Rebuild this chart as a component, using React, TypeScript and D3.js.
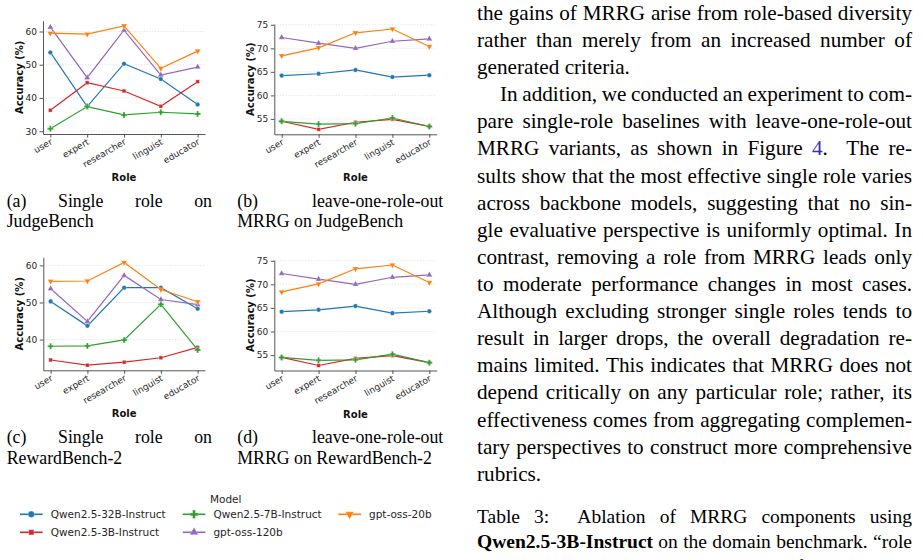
import React, { useEffect, useRef } from "react";
import * as d3 from "d3";

const W = 923;
const H = 560;

const roles = ["user", "expert", "researcher", "linguist", "educator"];

const models = [
  "Qwen2.5-32B-Instruct",
  "Qwen2.5-3B-Instruct",
  "Qwen2.5-7B-Instruct",
  "gpt-oss-120b",
  "gpt-oss-20b",
];
const modelColors = ["#1f77b4", "#d62728", "#2ca02c", "#9467bd", "#ff7f0e"];

// accuracy (%) per model (order of `models`), one value per role
const singleJudge = [
  [53.7, 37.4, 50.3, 45.7, 38.0],
  [36.3, 44.6, 42.1, 37.5, 44.9],
  [30.7, 37.4, 34.9, 35.7, 35.2],
  [61.3, 46.1, 60.4, 46.9, 49.3],
  [59.5, 59.2, 61.7, 48.9, 54.1],
];
const leaveOutJudge = [
  [64.2, 64.6, 65.4, 63.9, 64.3],
  [54.5, 52.8, 54.3, 54.9, 53.4],
  [54.5, 53.9, 54.0, 55.2, 53.4],
  [72.3, 71.1, 70.0, 71.5, 72.0],
  [68.4, 70.1, 73.3, 74.1, 70.4],
];
const singleReward = [
  [50.3, 43.7, 54.0, 54.0, 48.3],
  [34.5, 33.1, 33.9, 35.1, 37.9],
  [38.2, 38.3, 39.9, 49.5, 37.2],
  [53.7, 44.9, 57.3, 50.8, 49.4],
  [55.7, 55.8, 60.8, 53.5, 50.2],
];
const leaveOutReward = [
  [64.2, 64.6, 65.4, 63.9, 64.3],
  [54.5, 52.8, 54.3, 54.9, 53.4],
  [54.5, 53.9, 54.0, 55.2, 53.4],
  [72.3, 71.1, 70.0, 71.5, 72.0],
  [68.4, 70.1, 73.3, 74.1, 70.4],
];

const ticksSingleJudge = [30, 40, 50, 60];
const ticksLeaveOut = [55, 60, 65, 70, 75];
const ticksSingleReward = [40, 50, 60];

const captionA = ["(a) Single role on", "JudgeBench"];
const captionB = ["(b) leave-one-role-out", "MRRG on JudgeBench"];
const captionC = ["(c) Single role on", "RewardBench-2"];
const captionD = ["(d) leave-one-role-out", "MRRG on RewardBench-2"];

// "*" toggles bold, "^" toggles the link colour
const bodyLines = [
  "the gains of MRRG arise from role-based diversity",
  "rather than merely from an increased number of",
  "generated criteria.",
  "In addition, we conducted an experiment to com-",
  "pare single-role baselines with leave-one-role-out",
  "MRRG variants, as shown in Figure ^4^.  The re-",
  "sults show that the most effective single role varies",
  "across backbone models, suggesting that no sin-",
  "gle evaluative perspective is uniformly optimal. In",
  "contrast, removing a role from MRRG leads only",
  "to moderate performance changes in most cases.",
  "Although excluding stronger single roles tends to",
  "result in larger drops, the overall degradation re-",
  "mains limited. This indicates that MRRG does not",
  "depend critically on any particular role; rather, its",
  "effectiveness comes from aggregating complemen-",
  "tary perspectives to construct more comprehensive",
  "rubrics.",
];
const tableCaption = [
  "Table 3:  Ablation of MRRG components using",
  "*Qwen2.5-3B-Instruct* on the domain benchmark. “role",
  "s” denotes using only role-based rubrics for all samples",
];

const panels = [
  { data: singleJudge, ticks: ticksSingleJudge, x0: 43, x1: 205, top: 20.7, bottom: 134, caption: captionA, cx0: 6.7, cx1: 212, cy: 206.5 },
  { data: leaveOutJudge, ticks: ticksLeaveOut, x0: 274.3, x1: 436.7, top: 24, bottom: 134.3, caption: captionB, cx0: 237.3, cx1: 443.3, cy: 206.5 },
  { data: singleReward, ticks: ticksSingleReward, x0: 43.3, x1: 205, top: 257.3, bottom: 370.3, caption: captionC, cx0: 6.7, cx1: 212, cy: 443.2 },
  { data: leaveOutReward, ticks: ticksLeaveOut, x0: 274.3, x1: 436.7, top: 260, bottom: 370.5, caption: captionD, cx0: 237.3, cx1: 443.3, cy: 443.2 },
];

const SANS = "'DejaVu Sans', sans-serif";
const SERIF = "Liberation Serif";
const INK = "#262626";
const LINK = "#3434b0";

const symbolTypes = [d3.symbolCircle, d3.symbolSquare, d3.symbolCross, d3.symbolTriangle, d3.symbolTriangle];
const symbolScale = [1, 0.85, 1.25, 1, 1];

function marker(g: any, i: number, x: number, y: number, size: number) {
  g.append("path")
    .attr("d", d3.symbol().type(symbolTypes[i]).size(size * symbolScale[i])())
    .attr("transform", `translate(${x},${y})` + (i === 4 ? " rotate(180)" : ""))
    .attr("fill", modelColors[i])
    .attr("stroke", "#fff")
    .attr("stroke-width", 0.3);
}

const measureCtx = document.createElement("canvas").getContext("2d")!;
function textWidth(s: string, font: string) {
  measureCtx.font = font;
  return measureCtx.measureText(s).width;
}

// lays out one line of serif text word by word, optionally justified to [x0, x1]
function drawTextLine(g: any, line: string, x0: number, x1: number, y: number, size: number, justify: boolean) {
  const regular = `${size}px "${SERIF}"`;
  const boldFont = `bold ${size}px "${SERIF}"`;
  let isBold = false;
  let isLink = false;
  let pending = 0;
  const words: { segs: { text: string; bold: boolean; link: boolean }[]; width: number; gaps: number }[] = [];
  for (const raw of line.split(" ")) {
    if (raw === "") {
      pending++;
      continue;
    }
    const segs: { text: string; bold: boolean; link: boolean }[] = [];
    let buf = "";
    for (const ch of raw) {
      if (ch === "*" || ch === "^") {
        if (buf) segs.push({ text: buf, bold: isBold, link: isLink });
        buf = "";
        if (ch === "*") isBold = !isBold;
        else isLink = !isLink;
      } else buf += ch;
    }
    if (buf) segs.push({ text: buf, bold: isBold, link: isLink });
    const width = d3.sum(segs, (s) => textWidth(s.text, s.bold ? boldFont : regular));
    words.push({ segs, width, gaps: words.length ? pending + 1 : 0 });
    pending = 0;
  }
  const space = textWidth(" ", regular);
  const totalGaps = d3.sum(words, (w) => w.gaps);
  const natural = d3.sum(words, (w) => w.width) + totalGaps * space;
  const gap = justify && totalGaps ? space + (x1 - x0 - natural) / totalGaps : space;

  let x = x0;
  words.forEach((w) => {
    x += w.gaps * gap;
    const t = g
      .append("text")
      .attr("x", x)
      .attr("y", y)
      .style("font-family", SERIF)
      .style("font-size", `${size}px`)
      .attr("fill", "#000");
    w.segs.forEach((s) => {
      t.append("tspan")
        .text(s.text)
        .attr("font-weight", s.bold ? "bold" : null)
        .attr("fill", s.link ? LINK : null);
    });
    x += w.width;
  });
}

export default function App() {
  const svgRef = useRef<SVGSVGElement>(null);

  useEffect(() => {
    document.body.style.margin = "0";
    const svg = d3.select(svgRef.current);
    svg.selectAll("*").remove();

    panels.forEach((p) => {
      const g = svg.append("g");
      const flat = p.data.flat();
      const lo = d3.min(flat)!;
      const hi = d3.max(flat)!;
      const pad = (hi - lo) * 0.05;

      const x = d3.scalePoint<string>().domain(roles).range([p.x0, p.x1]).padding(0.2);
      const y = d3.scaleLinear().domain([lo - pad, hi + pad]).range([p.bottom, p.top]);

      // dotted horizontal grid
      g.selectAll(".grid")
        .data(p.ticks)
        .join("line")
        .attr("x1", p.x0)
        .attr("x2", p.x1)
        .attr("y1", (d) => y(d))
        .attr("y2", (d) => y(d))
        .attr("stroke", "#dedede")
        .attr("stroke-width", 0.8)
        .attr("stroke-dasharray", "1.2 1.6");

      const yAxis = g
        .append("g")
        .attr("transform", `translate(${p.x0},0)`)
        .call(d3.axisLeft(y).tickValues(p.ticks).tickSize(3.5).tickSizeOuter(0).tickPadding(2.5));
      yAxis.selectAll("path, line").attr("stroke", "#444").attr("stroke-width", 0.9);
      yAxis.selectAll("text").attr("fill", INK).style("font-family", SANS).style("font-size", "9px");

      const xAxis = g
        .append("g")
        .attr("transform", `translate(0,${p.bottom})`)
        .call(d3.axisBottom(x).tickSize(3.5).tickSizeOuter(0));
      xAxis.selectAll("path, line").attr("stroke", "#444").attr("stroke-width", 0.9);
      xAxis
        .selectAll("text")
        .attr("fill", INK)
        .style("font-family", SANS)
        .style("font-size", "9px")
        .attr("text-anchor", "end")
        .attr("y", 0)
        .attr("dy", "0.72em")
        .attr("transform", "translate(-1,4) rotate(-30)");

      g.append("text")
        .attr("x", (p.x0 + p.x1) / 2)
        .attr("y", p.bottom + 47)
        .attr("text-anchor", "middle")
        .attr("fill", "#111")
        .style("font-family", SANS)
        .style("font-size", "10px")
        .style("font-weight", "bold")
        .text("Role");

      g.append("text")
        .attr("transform", `translate(${p.x0 - 20},${(p.top + p.bottom) / 2}) rotate(-90)`)
        .attr("text-anchor", "middle")
        .attr("fill", "#111")
        .style("font-family", SANS)
        .style("font-size", "10px")
        .style("font-weight", "bold")
        .text("Accuracy (%)");

      const line = d3
        .line<number>()
        .x((_, i) => x(roles[i])!)
        .y((d) => y(d));

      p.data.forEach((vals, mi) => {
        g.append("path")
          .attr("d", line(vals))
          .attr("fill", "none")
          .attr("stroke", modelColors[mi])
          .attr("stroke-width", 1.2);
        vals.forEach((v, ri) => marker(g, mi, x(roles[ri])!, y(v), 16));
      });

      drawTextLine(svg, p.caption[0], p.cx0, p.cx1, p.cy, 17.8, true);
      drawTextLine(svg, p.caption[1], p.cx0, p.cx1, p.cy + 20.4, 17.8, false);
    });

    // legend
    const lg = svg.append("g");
    lg.append("text")
      .attr("x", 225.7)
      .attr("y", 503.3)
      .attr("text-anchor", "middle")
      .attr("fill", INK)
      .style("font-family", SANS)
      .style("font-size", "10.5px")
      .text("Model");
    const colX = [20, 182.7, 338.3];
    const rowY = [514.3, 532.3];
    models.forEach((m, i) => {
      const cx = colX[Math.floor(i / 2)];
      const cy = rowY[i % 2];
      lg.append("line")
        .attr("x1", cx)
        .attr("x2", cx + 22.7)
        .attr("y1", cy)
        .attr("y2", cy)
        .attr("stroke", modelColors[i])
        .attr("stroke-width", 1.6);
      marker(lg, i, cx + 11.3, cy, 32);
      lg.append("text")
        .attr("x", cx + 30.7)
        .attr("y", cy + 4)
        .attr("fill", INK)
        .style("font-family", SANS)
        .style("font-size", "10.5px")
        .text(m);
    });

    // right-hand column of body text
    const justifyOff = new Set([2, 17]);
    bodyLines.forEach((l, i) => {
      drawTextLine(svg, l, i === 3 ? 500 : 477, 912, 19.8 + i * 27.12, 21.2, !justifyOff.has(i));
    });
    tableCaption.forEach((l, i) => {
      drawTextLine(svg, l, 477, 912, 523.3 + i * 25, 19.5, true);
    });
  }, []);

  return <svg ref={svgRef} width={W} height={H} style={{ display: "block", background: "#fff" }} />;
}
